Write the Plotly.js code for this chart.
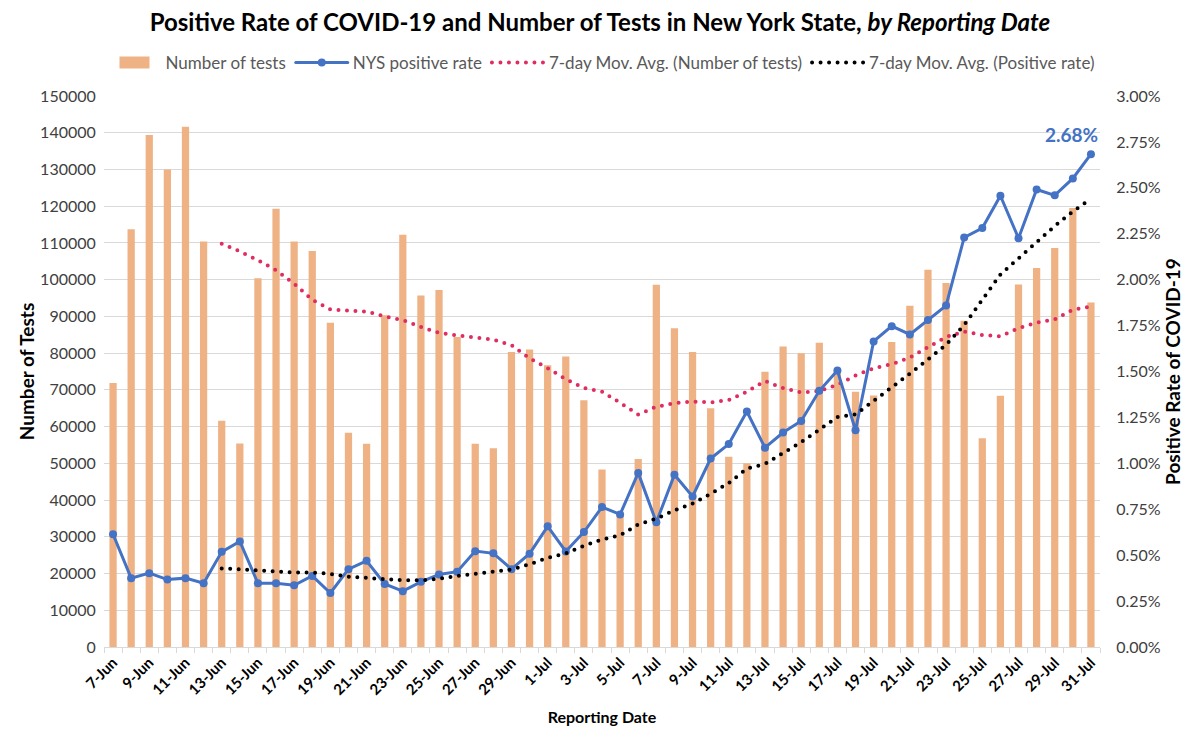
<!DOCTYPE html>
<html>
<head>
<meta charset="utf-8">
<script src="https://cdn.plot.ly/plotly-3.0.1.min.js"></script>
<style>
  html, body { margin: 0; padding: 0; background: #ffffff; }
  #chart { width: 1200px; height: 752px; }
  .scatterlayer .js-line, .legend .js-line { stroke-linecap: round; }
</style>
</head>
<body>
<div id="chart"></div>
<script>
// Reporting dates (categories)
const dates = [
  "7-Jun","8-Jun","9-Jun","10-Jun","11-Jun","12-Jun","13-Jun","14-Jun","15-Jun","16-Jun",
  "17-Jun","18-Jun","19-Jun","20-Jun","21-Jun","22-Jun","23-Jun","24-Jun","25-Jun","26-Jun",
  "27-Jun","28-Jun","29-Jun","30-Jun",
  "1-Jul","2-Jul","3-Jul","4-Jul","5-Jul","6-Jul","7-Jul","8-Jul","9-Jul","10-Jul",
  "11-Jul","12-Jul","13-Jul","14-Jul","15-Jul","16-Jul","17-Jul","18-Jul","19-Jul","20-Jul",
  "21-Jul","22-Jul","23-Jul","24-Jul","25-Jul","26-Jul","27-Jul","28-Jul","29-Jul","30-Jul","31-Jul"
];

// Number of tests per day
const numberOfTests = [
  71900,113700,139400,130000,141600,110400,61600,55400,100400,119300,
  110400,107800,88300,58300,55300,90300,112200,95700,97200,84400,
  55300,54100,80300,81000,
  76700,79100,67200,48300,36000,51200,98600,86800,80300,65000,
  51800,50000,74900,81800,80000,82800,75500,69500,68500,83000,
  92900,102700,99100,88800,56800,68400,98700,103200,108600,119500,93800
];

// NYS positive rate (%)
const positiveRate = [
  0.614,0.375,0.402,0.367,0.375,0.347,0.518,0.575,0.347,0.347,
  0.336,0.387,0.294,0.424,0.469,0.343,0.304,0.355,0.395,0.410,
  0.522,0.510,0.424,0.508,
  0.657,0.520,0.626,0.762,0.722,0.948,0.679,0.938,0.820,1.026,
  1.105,1.282,1.085,1.168,1.231,1.395,1.505,1.180,1.664,1.747,
  1.702,1.780,1.859,2.230,2.281,2.457,2.226,2.491,2.459,2.551,2.683
];

// 7-day moving average of number of tests
const testsMovAvg = [
  null,null,null,null,null,null,109800,107700,105300,102600,
  98900,94500,91900,91500,91300,90000,89000,87100,85500,84800,
  84300,83700,82200,78600,
  75900,72900,70500,69500,66500,63300,65400,66400,66800,66600,
  67200,69500,72400,70500,69300,69700,71400,73900,75900,77000,
  78800,81600,84400,85900,84900,84600,86800,88300,89200,91800,92700
];

// 7-day moving average of positive rate (%)
const rateMovAvg = [
  null,null,null,null,null,null,0.428,0.422,0.414,0.410,
  0.406,0.406,0.398,0.383,0.375,0.367,0.363,0.363,0.371,0.387,
  0.398,0.406,0.422,0.451,
  0.485,0.510,0.551,0.585,0.608,0.667,0.699,0.744,0.781,0.834,
  0.893,0.971,0.997,1.056,1.115,1.183,1.252,1.266,1.340,1.409,
  1.488,1.566,1.645,1.753,1.890,2.028,2.116,2.204,2.292,2.371,2.440
];

const seriesNames = [
  "Number of tests",
  "NYS positive rate",
  "7-day Mov. Avg. (Number of tests)",
  "7-day Mov. Avg. (Positive rate)"
];

// every other date is labelled
const tickLabels = dates.map((d, i) => (i % 2 === 0 ? d : ""));
const FONT = "Lato, 'Open Sans', sans-serif";
const CLEAR = "rgba(0,0,0,0)";

const traces = [
  {
    type: "bar", name: seriesNames[0], x: dates, y: numberOfTests,
    marker: { color: "#EFB284" }, yaxis: "y"
  },
  {
    type: "scatter", mode: "lines+markers", name: seriesNames[1], x: dates, y: positiveRate,
    yaxis: "y2", line: { color: "#4472C4", width: 3 },
    marker: { color: "#4472C4", size: 8 }
  },
  {
    type: "scatter", mode: "lines", name: seriesNames[2], x: dates, y: testsMovAvg,
    yaxis: "y", line: { color: "#DF2D62", width: 4, dash: "0px,8.5px" }
  },
  {
    type: "scatter", mode: "lines", name: seriesNames[3], x: dates, y: rateMovAvg,
    yaxis: "y2", line: { color: "#000000", width: 4, dash: "0px,8.5px" }
  }
];

const layout = {
  width: 1200, height: 752,
  paper_bgcolor: "#ffffff", plot_bgcolor: "#ffffff",
  font: { family: FONT, color: "#404040" },
  margin: { l: 104, r: 100, t: 96, b: 105 },
  title: {
    text: "<b>Positive Rate of COVID-19 and Number of Tests in New York State, <i>by Reporting Date</i></b>",
    font: { family: FONT, size: 24, color: "#000000" },
    x: 0.5, xanchor: "center", y: 0.97, yref: "container", yanchor: "middle"
  },
  showlegend: true,
  legend: {
    orientation: "h", x: 0.5, xanchor: "center", y: 1.06, yanchor: "middle",
    font: { family: FONT, size: 17, color: "#595959" },
    traceorder: "normal", itemwidth: 52
  },
  bargap: 0.6,
  xaxis: {
    type: "category", range: [-0.5, dates.length - 0.5], automargin: false,
    tickmode: "array", tickvals: dates, ticktext: tickLabels,
    tickangle: -45, tickson: "boundaries",
    tickfont: { family: FONT, size: 15, color: "#000000", weight: "bold" },
    showgrid: false, showline: true, linecolor: "#D9D9D9", linewidth: 1,
    ticks: "outside", ticklen: 5, tickcolor: "#D9D9D9",
    title: { text: "<b>Reporting Date</b>", font: { family: FONT, size: 16, color: "#000000" }, standoff: 14 },
    zeroline: false
  },
  yaxis: {
    range: [0, 150000], dtick: 10000, tick0: 0, tickformat: "d", automargin: false,
    ticks: "outside", ticklen: 4, tickcolor: CLEAR,
    tickfont: { family: FONT, size: 16, color: "#404040" },
    showgrid: true, gridcolor: "#D9D9D9", gridwidth: 1,
    zeroline: false, showline: false,
    title: { text: "<b>Number of Tests</b>", font: { family: FONT, size: 19, color: "#000000" }, standoff: 0 }
  },
  yaxis2: {
    overlaying: "y", side: "right", automargin: false,
    range: [0, 3], dtick: 0.25, tick0: 0, tickformat: ".2f", ticksuffix: "%",
    ticks: "outside", ticklen: 12, tickcolor: CLEAR,
    tickfont: { family: FONT, size: 16, color: "#404040" },
    showgrid: false, zeroline: false, showline: false,
    title: { text: "<b>Positive Rate of COVID-19</b>", font: { family: FONT, size: 19, color: "#000000" }, standoff: 2 }
  },
  annotations: [
    {
      x: dates[dates.length - 1], y: positiveRate[positiveRate.length - 1],
      xref: "x", yref: "y2",
      text: "<b>" + positiveRate[positiveRate.length - 1].toFixed(2) + "%</b>",
      showarrow: false, xshift: -19, yshift: 20,
      font: { family: FONT, size: 19, color: "#4472C4" }
    }
  ]
};

function widenBarSwatch() {
  // widen the bar legend swatch to a rectangle, as in the original legend
  const groups = document.querySelectorAll("#chart .legend .traces");
  if (!groups.length) return;
  groups[0].querySelectorAll(".legendpoints path").forEach(function (p) {
    p.setAttribute("d", "M15,6H-15V-6H15Z");
  });
}

Plotly.newPlot("chart", traces, layout, { displayModeBar: false, staticPlot: true }).then(function () {
  widenBarSwatch();
  setTimeout(widenBarSwatch, 0);
});
</script>
</body>
</html>
